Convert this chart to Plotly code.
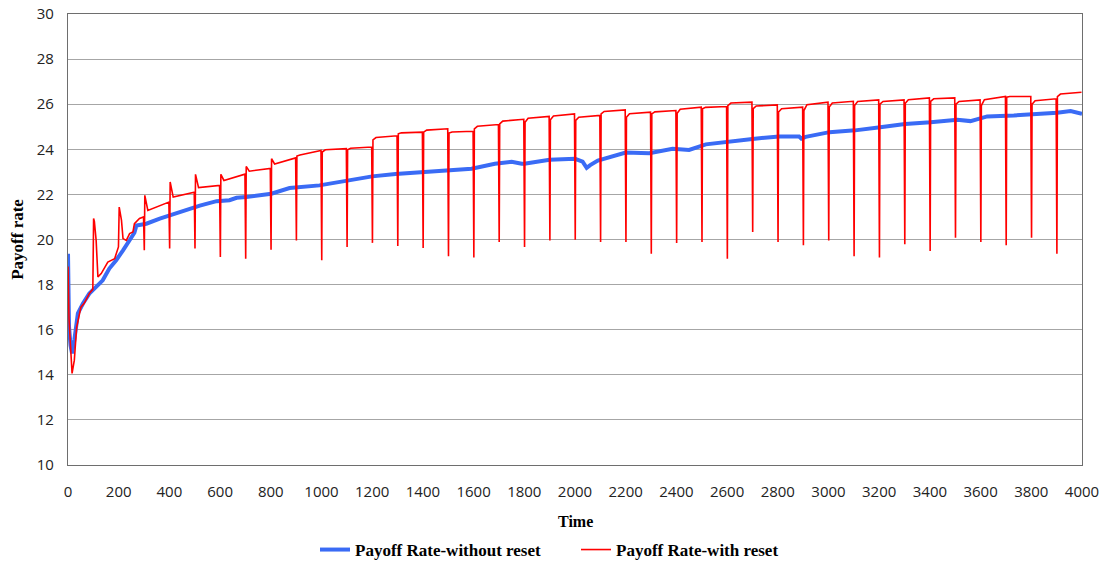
import plotly.graph_objects as go

# ---- Data ----
# Blue series: Payoff Rate - without reset (key points)
blue_t = [0, 4, 10, 16, 25, 39, 59, 84, 111, 137, 163, 190, 217, 237, 250, 262, 270,
          309, 362, 414, 467, 520, 586, 637, 665, 703, 802, 874, 992, 1097, 1200, 1292,
          1397, 1500, 1592, 1684, 1750, 1790, 1800, 1900, 2000, 2030, 2046, 2060, 2090,
          2200, 2293, 2385, 2450, 2516, 2621, 2700, 2805, 2884, 2893, 2910, 3004, 3105,
          3204, 3302, 3403, 3508, 3560, 3626, 3731, 3810, 3902, 3955, 4000]
blue_v = [19.37, 16.13, 15.3, 14.95, 15.54, 16.72, 17.16, 17.6, 17.9, 18.19, 18.71, 19.08,
          19.52, 19.89, 20.1, 20.3, 20.62, 20.7, 20.93, 21.12, 21.3, 21.5, 21.7, 21.74,
          21.85, 21.88, 22.03, 22.28, 22.4, 22.59, 22.8, 22.9, 22.99, 23.06, 23.14, 23.36,
          23.45, 23.36, 23.36, 23.54, 23.58, 23.45, 23.18, 23.3, 23.5, 23.86, 23.83, 24.02,
          23.97, 24.22, 24.38, 24.46, 24.57, 24.57, 24.47, 24.55, 24.76, 24.84, 24.98,
          25.12, 25.2, 25.31, 25.25, 25.46, 25.5, 25.54, 25.62, 25.7, 25.57]

# Red series: Payoff Rate - with reset, first 300 time units (explicit points)
red_early_t = [0, 4, 16, 25, 34, 51, 64, 84, 98, 101, 104, 111, 118, 131, 157, 184, 199,
               202, 211, 217, 230, 243, 256, 262, 282, 298]
red_early_v = [18.8, 16.5, 14.06, 14.65, 16.1, 17.0, 17.17, 17.6, 17.8, 20.93, 20.8, 19.96,
               18.34, 18.49, 19.0, 19.15, 19.67, 21.44, 20.85, 20.04, 19.96, 20.26, 20.33,
               20.7, 20.93, 21.0]

# Red series: each reset (every 100 time units from 300): dip, value right after,
# value shortly after, value at end of the period
reset_t = [300, 400, 500, 600, 700, 800, 900, 1000, 1100, 1200, 1300, 1400, 1500, 1600,
           1700, 1800, 1900, 2000, 2100, 2200, 2300, 2400, 2500, 2600, 2700, 2800, 2900,
           3000, 3100, 3200, 3300, 3400, 3500, 3600, 3700, 3800, 3900]
dip_v = [19.52, 19.6, 19.6, 19.22, 19.15, 19.55, 19.96, 19.08, 19.67, 19.85, 19.71, 19.62,
         19.26, 19.2, 19.89, 19.67, 19.96, 19.99, 19.89, 19.89, 19.37, 19.85, 19.89, 19.15,
         20.33, 19.89, 19.74, 19.96, 19.26, 19.2, 19.79, 19.49, 20.08, 19.89, 19.74, 20.08,
         19.37]
peak_v = [21.96, 22.55, 22.89, 22.89, 23.24, 23.58, 23.7, 23.88, 23.98, 24.42, 24.69, 24.76,
          24.72, 24.91, 25.13, 25.2, 25.31, 25.28, 25.57, 25.42, 25.57, 25.6, 25.8, 25.94,
          25.8, 25.65, 25.72, 25.87, 25.94, 26.0, 26.04, 26.13, 26.0, 25.94, 26.31, 26.0,
          26.34]
settle_v = [21.29, 21.88, 22.3, 22.62, 23.03, 23.35, 23.75, 23.98, 24.05, 24.52, 24.73,
            24.85, 24.77, 25.02, 25.25, 25.38, 25.48, 25.42, 25.68, 25.58, 25.66, 25.78,
            25.86, 26.05, 25.92, 25.8, 25.98, 26.05, 26.12, 26.12, 26.2, 26.24, 26.12,
            26.2, 26.34, 26.15, 26.45]
end_v = [21.66, 22.1, 22.4, 22.9, 23.15, 23.62, 23.95, 24.03, 24.1, 24.6, 24.76, 24.91,
         24.8, 25.1, 25.33, 25.46, 25.57, 25.5, 25.75, 25.65, 25.72, 25.87, 25.9, 26.09,
         25.97, 25.87, 26.09, 26.13, 26.19, 26.19, 26.28, 26.28, 26.19, 26.34, 26.34,
         26.24, 26.53]

x_ticks = list(range(0, 4001, 200))
y_ticks = list(range(10, 31, 2))

# ---- Build red path ----
red_t = list(red_early_t)
red_v = list(red_early_v)
for s, d, p, st, e in zip(reset_t, dip_v, peak_v, settle_v, end_v):
    red_t += [s + 1, s + 3, s + 15, s + 98]
    red_v += [d, p, st, e]

fig = go.Figure()
fig.add_trace(go.Scatter(x=blue_t, y=blue_v, mode="lines", name="Payoff Rate-without reset",
                         line=dict(color="#3A6BF5", width=4), legend="legend"))
fig.add_trace(go.Scatter(x=red_t, y=red_v, mode="lines", name="Payoff Rate-with reset",
                         line=dict(color="#FF0000", width=1.6), legend="legend2"))

tick_font = dict(family="Open Sans", size=15, color="#222222")
leg_font = dict(family="Liberation Serif", size=17, color="#000000", weight="bold")

fig.update_layout(
    width=1105, height=563,
    margin=dict(l=68, r=23, t=14, b=98, autoexpand=False),
    paper_bgcolor="white", plot_bgcolor="white",
    showlegend=True,
    legend=dict(orientation="h", x=315 / 1105, xanchor="left", xref="container",
                y=13 / 563, yanchor="middle", yref="container",
                font=leg_font, itemwidth=30, bgcolor="rgba(0,0,0,0)"),
    legend2=dict(orientation="h", x=576 / 1105, xanchor="left", xref="container",
                 y=13 / 563, yanchor="middle", yref="container",
                 font=leg_font, itemwidth=30, bgcolor="rgba(0,0,0,0)"),
    xaxis=dict(range=[0, 4000], tickvals=x_ticks, ticktext=[str(v) for v in x_ticks],
               showgrid=False, zeroline=False, showline=True, mirror=True, automargin=False,
               linecolor="#6e6e6e", linewidth=1.3, ticks="outside", ticklen=13,
               tickcolor="rgba(0,0,0,0)", tickfont=tick_font),
    yaxis=dict(range=[10, 30], tickvals=y_ticks, ticktext=[str(v) for v in y_ticks],
               showgrid=True, gridcolor="#a6a6a6", gridwidth=1, zeroline=False,
               showline=True, mirror=True, linecolor="#6e6e6e", linewidth=1.3, automargin=False,
               ticks="outside", ticklen=10, tickcolor="rgba(0,0,0,0)", tickfont=tick_font),
    annotations=[
        dict(text="Time", xref="paper", yref="paper", x=0.5, y=-0.126,
             xanchor="center", yanchor="middle", showarrow=False,
             font=dict(family="Liberation Serif", size=16, color="#000000", weight="bold")),
        dict(text="Payoff rate", xref="paper", yref="paper", x=-0.05, y=0.5,
             xanchor="center", yanchor="middle", showarrow=False, textangle=-90,
             font=dict(family="Liberation Serif", size=17, color="#000000", weight="bold")),
    ],
)

# remove the default 8px page margin so the figure sits at the window's top-left corner
fig.write_html("out.html", config={"displayModeBar": False},
               post_script="document.body.style.margin='0';")
